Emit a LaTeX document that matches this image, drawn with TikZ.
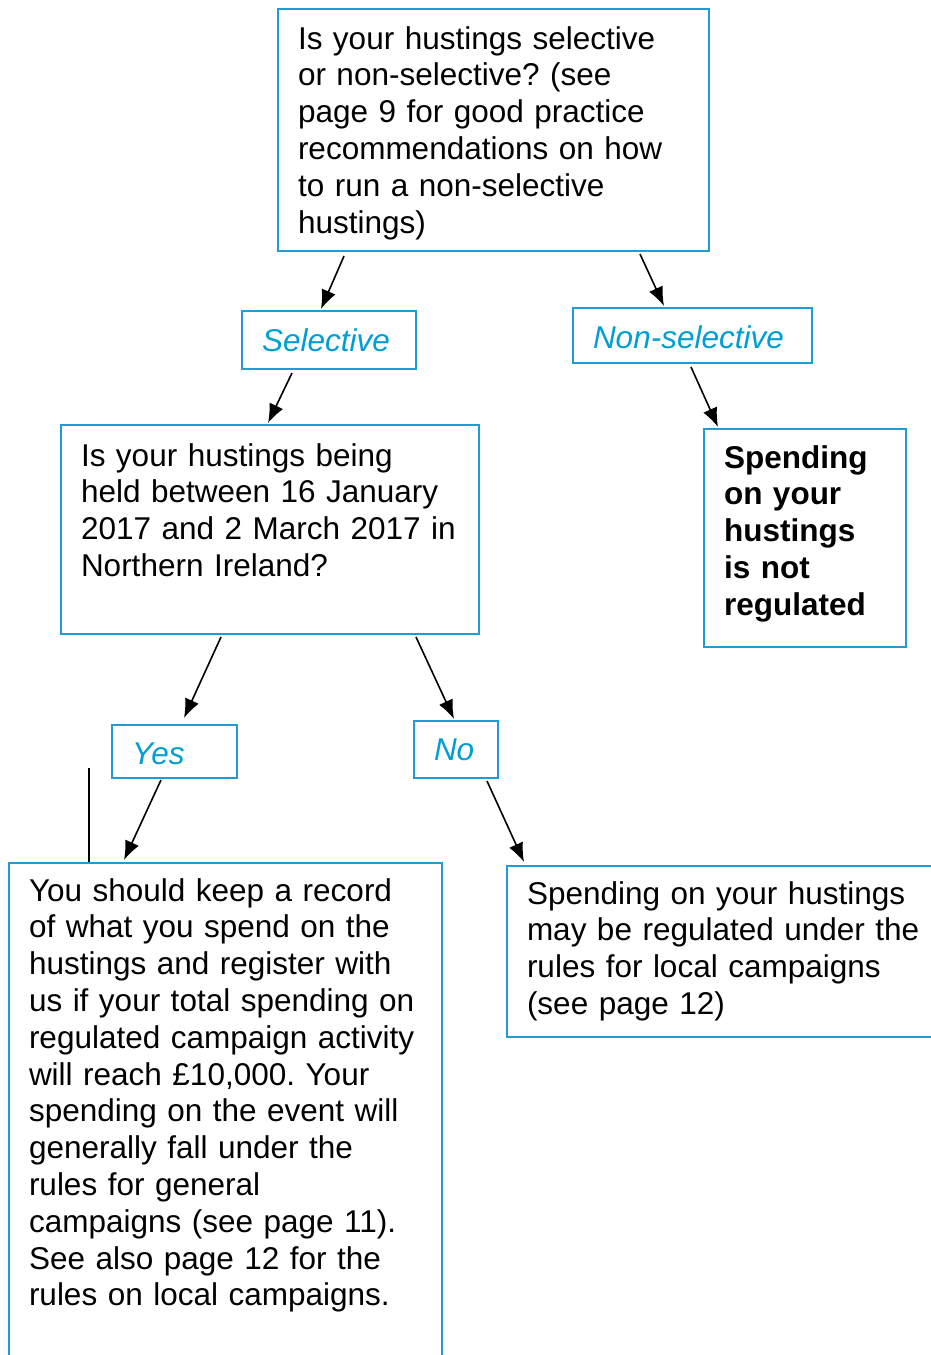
\documentclass[tikz,border=0pt]{standalone}
\usepackage{fontspec}
\setmainfont{Liberation Sans}
\usepackage{xcolor}
\usepackage{tikz}
\usetikzlibrary{arrows.meta}
\usetikzlibrary{calc}

\definecolor{boxblue}{RGB}{33,155,214}
\definecolor{labelblue}{RGB}{0,158,212}

\begin{document}
\frenchspacing
\begin{tikzpicture}[
    x=1pt, y=-1pt,
    % styles
    box/.style={draw=boxblue, line width=2pt, anchor=north west, align=left,
      inner xsep=20pt, inner ysep=0pt,
      font=\fontsize{31.5}{36.8}\selectfont},
    choice/.style={box, text=labelblue, font=\fontsize{31.5}{36.8}\selectfont\itshape},
    link/.style={line width=1.6pt, -{Latex[length=19pt, width=15pt]}}]

    \useasboundingbox (0, 0) rectangle (930, 1355);

    % questions
    \node [box, text width=391pt, text height=40pt, text depth=202pt]
      (hust) at (277, 8) {Is your hustings selective\\ or non-selective? (see\\
      page 9 for good practice\\ recommendations on how\\ to run a non-selective\\
      hustings)};
    \node [box, text width=378pt, text height=41pt, text depth=168pt]
      (period) at (60, 424) {Is your hustings being\\ held between 16 January\\
      2017 and 2 March 2017~in\\ Northern Ireland?};

    % answers
    \node [choice, text width=134pt, text height=40pt, text depth=18pt]
      (sel) at (241, 310) {Selective};
    \node [choice, text width=199pt, text height=40pt, text depth=15pt]
      (nonsel) at (572, 307) {Non-selective};
    \node [choice, text width=85pt, text height=39pt, text depth=14pt]
      (yes) at (111, 724) {Yes};
    \node [choice, text width=44pt, text height=39pt, text depth=18pt]
      (no) at (413, 720) {No};

    % outcomes
    \node [box, text width=162pt, text height=39pt, text depth=179pt,
      font=\fontsize{31.5}{36.8}\selectfont\bfseries]
      (notreg) at (703, 428) {Spending\\ on your\\ hustings\\ is not\\ regulated};
    \node [box, text width=393pt, text height=38pt, text depth=475pt]
      (general) at (8, 862) {You should keep a record\\ of what you spend on the\\
      hustings and register with\\ us if your total spending~on\\
      regulated campaign~activity\\ will reach £10,000. Your\\
      spending on the event will\\ generally fall under the\\
      rules for general\\ campaigns (see page 11).\\
      See also page 12 for the\\ rules on local campaigns.};
    \node [box, text width=404pt, text height=38pt, text depth=133pt]
      (local) at (506, 865) {Spending on your hustings\\ may be regulated under the\\
      rules for local campaigns\\ (see page 12)};

    % arrows
    \draw [link] ($(hust.south west)+(67, 4)$) -- ($(sel.north west)+(80, -1)$);
    \draw [link] ($(hust.south west)+(363, 2)$) -- ($(nonsel.north west)+(92, -1)$);
    \draw [link] ($(sel.south west)+(51, 3)$) -- ($(period.north west)+(208, -1)$);
    \draw [link] ($(nonsel.south west)+(119, 3)$) -- ($(notreg.north west)+(15, -1)$);
    \draw [link] ($(period.south west)+(161, 2)$) -- ($(yes.north west)+(73, -6)$);
    \draw [link] ($(period.south west)+(356, 2)$) -- ($(no.north west)+(41, -1)$);
    \draw [link] ($(yes.south west)+(50, 1)$) -- ($(general.north west)+(116, -2)$);
    \draw [link] ($(no.south west)+(74, 2)$) -- ($(local.north west)+(18, -3)$);

    % stray rule
    \coordinate (rule) at (89, 768);
    \draw [line width=1.6pt] (rule) -- ($(general.north west)+(81, 0)$);

\end{tikzpicture}
\end{document}
